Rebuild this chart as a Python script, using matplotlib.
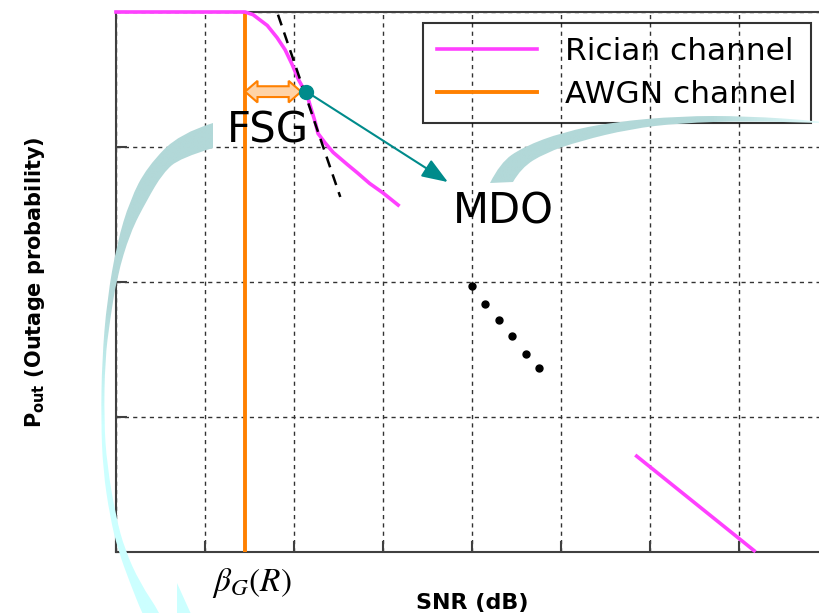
import numpy as np
import matplotlib
matplotlib.use("Agg")
import matplotlib.pyplot as plt
from matplotlib.path import Path
from matplotlib.patches import PathPatch, Polygon
from matplotlib.colors import LinearSegmentedColormap
import matplotlib.transforms as mtransforms

# SNR in grid units, outage probability as log10(Pout)
snr_rician = [0.0, 1.40, 1.45, 1.54, 1.70, 1.81, 1.90, 1.98, 2.05, 2.10, 2.14, 2.18, 2.24,
              2.27, 2.35, 2.44, 2.60, 2.71, 2.85, 3.00, 3.17]
logp_rician = [0.0, 0.0, 0.0, -0.02, -0.10, -0.19, -0.28, -0.39, -0.50, -0.56, -0.60, -0.69, -0.82,
               -0.90, -0.97, -1.04, -1.13, -1.19, -1.27, -1.34, -1.43]
snr_rician_hi = [5.85, 7.17]
logp_rician_hi = [-3.29, -3.99]
beta_g = 1.45                       # AWGN threshold beta_G(R)
snr_tangent = [1.82, 2.52]
logp_tangent = [-0.02, -1.37]
mdo_point = (2.14, -0.59)
mdo_arrow_end = (3.73, -1.26)
snr_dots = [4.00, 4.15, 4.30, 4.45, 4.61, 4.75]
logp_dots = [-2.03, -2.16, -2.28, -2.40, -2.53, -2.64]
x_grid = list(range(0, 9))
y_grid = [0, -1, -2, -3, -4]

MAGENTA = "#FF40FF"
ORANGE = "#FF8000"
TEAL = "#008B8B"

fig = plt.figure(figsize=(8.19, 6.13), dpi=100)
ax = fig.add_axes([116 / 819, 61 / 613, 712 / 819, 540 / 613])
ax.set_xlim(0, 8)
ax.set_ylim(-4, 0)
ax.set_xticks(x_grid)
ax.set_yticks(y_grid)
ax.tick_params(direction="in", length=8, width=1.5, color="#404040",
               labelbottom=False, labelleft=False)
ax.grid(True, linestyle=(0, (3, 3)), color="#333333", lw=1.0)
for s in ax.spines.values():
    s.set_color("#404040")
    s.set_linewidth(1.5)

ax.plot(snr_rician, logp_rician, color=MAGENTA, lw=2.6, label="Rician channel",
        clip_on=False, zorder=4, solid_joinstyle="round")
ax.plot(snr_rician_hi, logp_rician_hi, color=MAGENTA, lw=2.6, clip_on=False, zorder=4)
ax.axvline(beta_g, color=ORANGE, lw=2.8, label="AWGN channel", zorder=3)
ax.plot(snr_tangent, logp_tangent, color="black", lw=1.8, ls=(0, (4.5, 3)), zorder=4)
ax.plot(snr_dots, logp_dots, "o", color="black", ms=5, zorder=4)

# teal marker and arrow towards the MDO label
ax.annotate("", xy=mdo_arrow_end, xytext=mdo_point,
            arrowprops=dict(arrowstyle="-|>,head_length=1.6,head_width=0.6",
                            color=TEAL, lw=1.5, shrinkA=0, shrinkB=0), zorder=5)
ax.plot(*mdo_point, "o", color=TEAL, ms=10, zorder=6)

# block double arrow between beta_G and the tangent point
x0, x1, yc = beta_g, mdo_point[0] - 0.06, mdo_point[1]
hx, hy, sy = 0.14, 0.08, 0.04
ax.add_patch(Polygon([(x0, yc), (x0 + hx, yc + hy), (x0 + hx, yc + sy), (x1 - hx, yc + sy),
                      (x1 - hx, yc + hy), (x1, yc), (x1 - hx, yc - hy), (x1 - hx, yc - sy),
                      (x0 + hx, yc - sy), (x0 + hx, yc - hy)],
                     closed=True, facecolor="#FFD3A6", edgecolor=ORANGE, lw=1.5, zorder=5))

ax.text(1.708, -0.970, "FSG", fontsize=30, ha="center", va="baseline", zorder=6)
ax.text(4.348, -1.570, "MDO", fontsize=30, ha="center", va="baseline", zorder=6)

ax.annotate(r"$\beta_G(R)$", xy=(beta_g, 0),
            xycoords=mtransforms.blended_transform_factory(ax.transData, ax.transAxes),
            xytext=(5, -22), textcoords="offset points", ha="center", va="center",
            fontsize=24, math_fontfamily="stix")

ax.set_xlabel("SNR (dB)", fontsize=16, fontweight="bold")
ax.xaxis.set_label_coords(0.5, -0.075)
ax.set_ylabel(r"$\mathbf{P}_{\mathbf{out}}$ (Outage probability)", fontsize=15, fontweight="bold")
ax.yaxis.set_label_coords(-0.097, 0.5)

leg = ax.legend(loc="upper left", bbox_to_anchor=(423 / 819, 1 - 23 / 613),
                bbox_transform=fig.transFigure, borderaxespad=0, fancybox=False,
                edgecolor="black", facecolor="none", fontsize=22.5, handlelength=3.2,
                handletextpad=0.9, labelspacing=0.45, borderpad=0.45)
leg.get_frame().set_linewidth(1.5)

# decorative curved arrows on a pixel-space overlay
ov = fig.add_axes([0, 0, 1, 1], zorder=5)
ov.set_autoscale_on(False)
ov.set_xlim(0, 819)
ov.set_ylim(613, 0)
ov.axis("off")


def band_path(outer, inner):
    verts, codes = [], []
    for k, pts in enumerate((outer, inner[::-1])):
        verts.append(pts[0])
        codes.append(Path.MOVETO if k == 0 else Path.LINETO)
        for i in range(1, len(pts) - 1):
            if i == len(pts) - 2:
                end = pts[i + 1]
            else:
                end = ((pts[i][0] + pts[i + 1][0]) / 2, (pts[i][1] + pts[i + 1][1]) / 2)
            verts += [pts[i], end]
            codes += [Path.CURVE3, Path.CURVE3]
    verts.append(outer[0])
    codes.append(Path.CLOSEPOLY)
    return Path(verts, codes)


swoosh_left_outer = [(213, 123), (180, 133), (147, 167), (130, 200), (117, 243), (107, 300),
                     (102, 360), (101, 420), (103, 470), (110, 517), (118, 550), (130, 583),
                     (142, 613), (150, 630)]
swoosh_left_inner = [(213, 148), (180, 158), (163, 173), (147, 200), (130, 233), (117, 277),
                     (110, 320), (105, 360), (104, 420), (107, 465), (116, 517), (125, 550),
                     (140, 583), (160, 613), (168, 630)]
swoosh_right_outer = [(490, 183), (500, 163), (523, 147), (563, 132), (613, 122), (680, 116),
                      (747, 116), (819, 121), (830, 123)]
swoosh_right_inner = [(513, 182), (521, 168), (545, 153), (580, 141), (630, 129), (680, 123),
                      (747, 121), (819, 123), (830, 123)]

cmap_left = LinearSegmentedColormap.from_list(
    "left", [(0, "#B2D8D8"), (0.38, "#B2D8D8"), (0.6, "#CCFFFF"), (1, "#CCFFFF")])
cmap_right = LinearSegmentedColormap.from_list(
    "right", [(0, "#B2D8D8"), (0.65, "#B2D8D8"), (1, "#E6FFFF")])

p1 = PathPatch(band_path(swoosh_left_outer, swoosh_left_inner), facecolor="none", edgecolor="none")
ov.add_patch(p1)
im1 = ov.imshow(np.linspace(0, 1, 256).reshape(-1, 1), cmap=cmap_left, aspect="auto",
                extent=[80, 240, 640, 100], origin="upper", interpolation="bilinear")
im1.set_clip_path(p1)
ov.add_patch(Polygon([(177, 583), (205, 645), (177, 645)], closed=True,
                     facecolor="#CCFFFF", edgecolor="none"))

p2 = PathPatch(band_path(swoosh_right_outer, swoosh_right_inner), facecolor="none", edgecolor="none")
ov.add_patch(p2)
im2 = ov.imshow(np.linspace(0, 1, 256).reshape(1, -1), cmap=cmap_right, aspect="auto",
                extent=[480, 830, 200, 100], origin="upper", interpolation="bilinear")
im2.set_clip_path(p2)
ov.set_xlim(0, 819)
ov.set_ylim(613, 0)

fig.savefig("out.png", dpi=100)
